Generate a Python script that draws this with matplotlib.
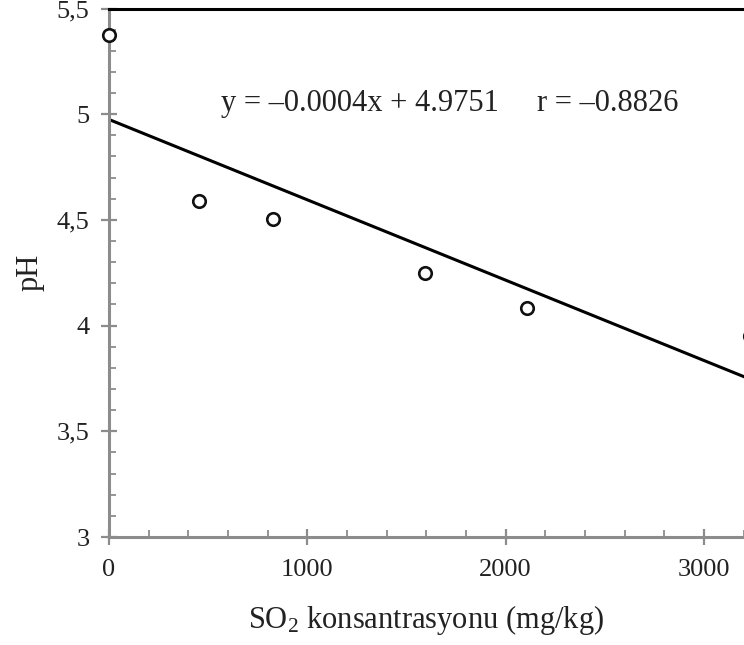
import matplotlib.pyplot as plt
from matplotlib.ticker import MultipleLocator

plt.rcParams['font.family'] = ['Liberation Serif', 'DejaVu Serif']
plt.rcParams['mathtext.fontset'] = 'custom'
plt.rcParams['mathtext.rm'] = 'Liberation Serif'
plt.rcParams['mathtext.it'] = 'Liberation Serif:italic'

# olculen degerler (SO2 mg/kg, pH)
so2 = [0, 454, 827, 1594, 2108, 3230]
ph = [5.375, 4.589, 4.504, 4.248, 4.082, 3.95]

# trend cizgisi
intercept = 4.9751
slope = -0.00038

x_ticks = [0, 1000, 2000, 3000]
x_labels = ["0", "1000", "2000", "3000"]
y_ticks = [3, 3.5, 4, 4.5, 5, 5.5]
y_labels = ["3", "3,5", "4", "4,5", "5", "5,5"]

fig = plt.figure(figsize=(7.44, 6.45), dpi=100)
ax = fig.add_axes([0.1465, 0.1674, 0.8535, 0.8194])

ax.axline((0, intercept), slope=slope, color='black', lw=2.2, zorder=2)
pts, = ax.plot(so2, ph, 'o', ms=9, mfc='white', mec='#111111', mew=1.9, zorder=3)
pts.set_clip_on(False)

ax.set_xlim(0, 3202)
ax.set_ylim(3, 5.5)

ax.set_xticks(x_ticks)
ax.set_xticklabels(x_labels)
ax.set_yticks(y_ticks)
ax.set_yticklabels(y_labels)
ax.xaxis.set_minor_locator(MultipleLocator(200))
ax.yaxis.set_minor_locator(MultipleLocator(0.1))

gray = '#8c8c8c'
ax.tick_params(which='major', direction='inout', length=12, width=1.6,
               color=gray, labelsize=19, labelcolor='#222222')
ax.tick_params(axis='x', which='major', pad=10)
ax.tick_params(axis='y', which='major', pad=8)
ax.tick_params(which='minor', direction='in', length=5, width=1.3, color=gray)

for s in ['left', 'bottom']:
    ax.spines[s].set_color(gray)
    ax.spines[s].set_linewidth(2.2)
ax.spines['top'].set_color('black')
ax.spines['top'].set_linewidth(2.2)
ax.spines['right'].set_visible(False)

ax.set_xlabel("SO$_2$ konsantrasyonu (mg/kg)", fontsize=22, labelpad=16, color='#222222')
ax.set_ylabel("pH", fontsize=22, labelpad=9, color='#222222')

ax.text(0.176, 0.821, "y = \u20130.0004x + 4.9751     r = \u20130.8826",
        transform=ax.transAxes, fontsize=22, color='#222222', va='center')

fig.savefig("out.png", dpi=100)
